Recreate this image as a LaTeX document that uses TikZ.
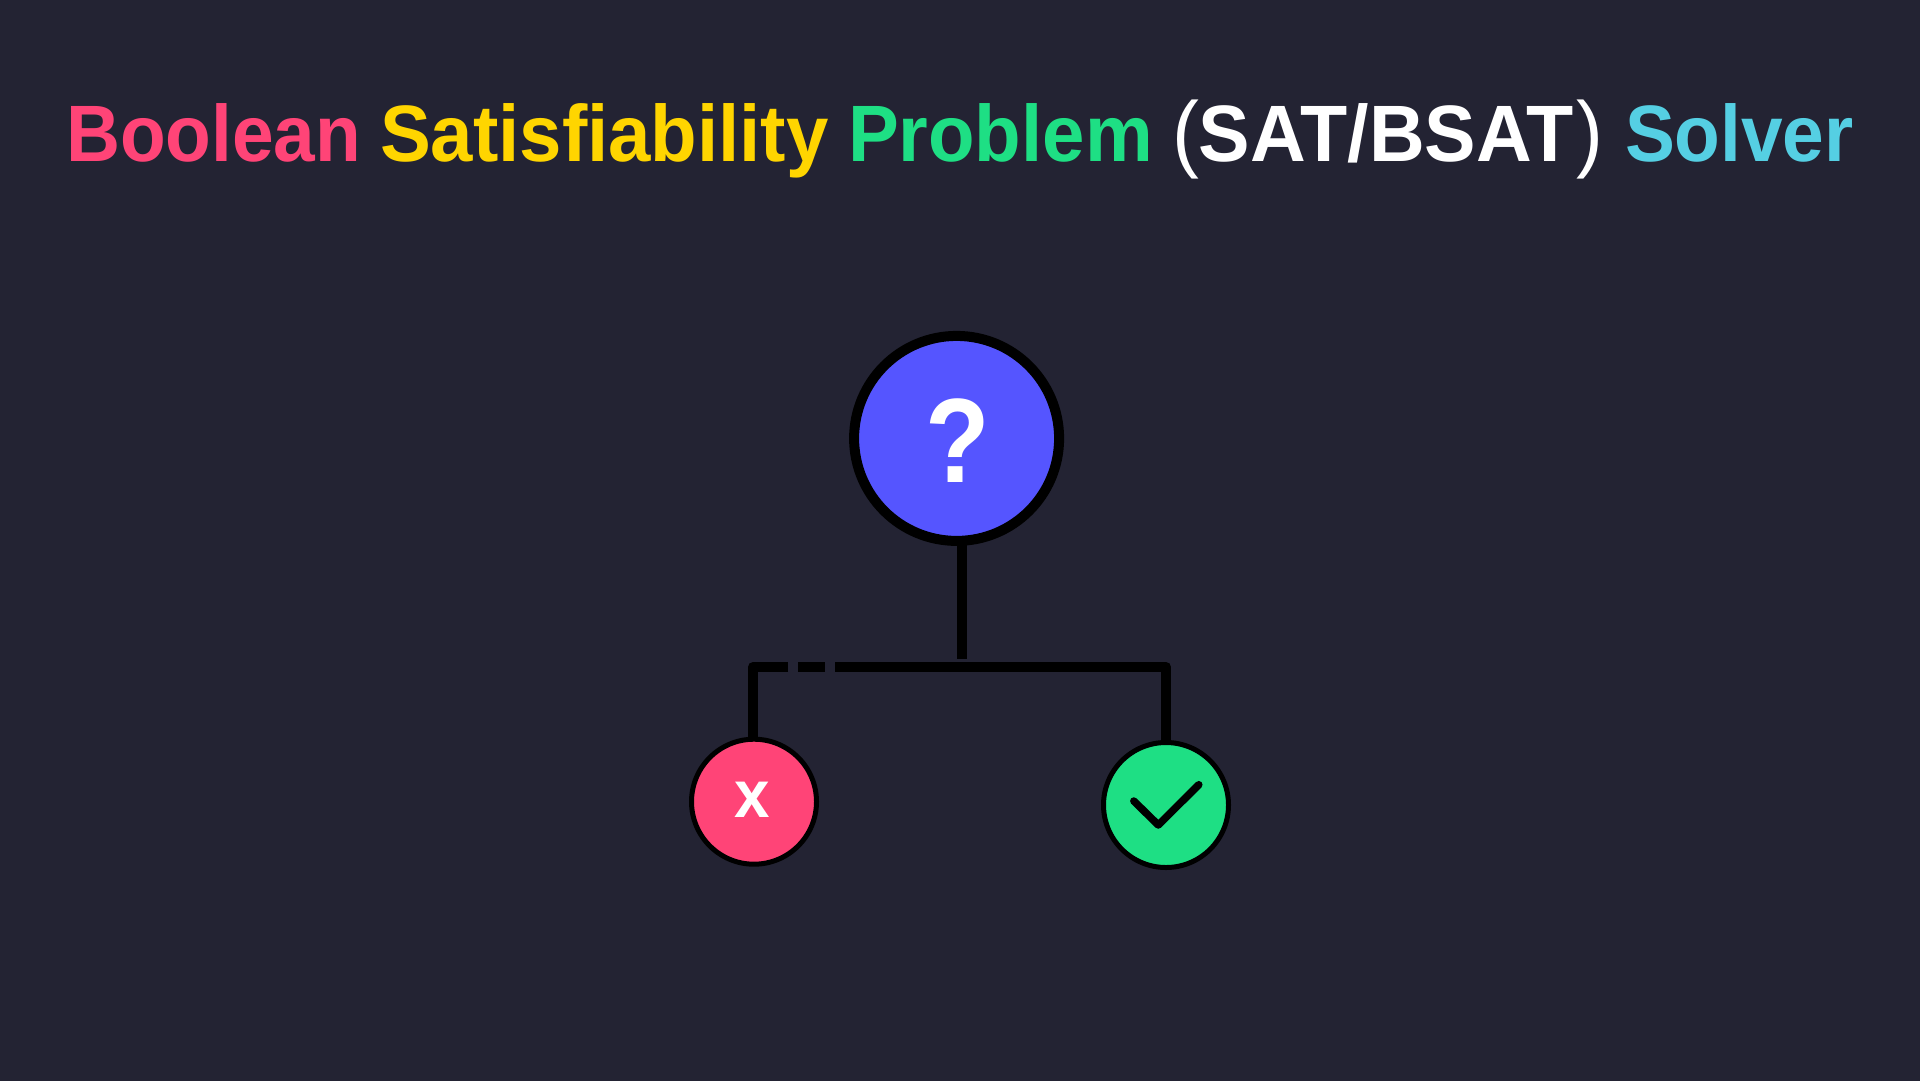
\documentclass[tikz,border=0pt]{standalone}
\usepackage{fontspec}
\setmainfont{Liberation Sans}
\newfontfamily\titlefont[FakeStretch=0.935]{Liberation Sans Bold}
\newfontfamily\widefont[FakeStretch=0.952]{Liberation Sans Bold}
\newfontfamily\satfont[FakeStretch=0.965]{Liberation Sans Bold}
\newfontfamily\markfont[FakeStretch=0.88]{Liberation Sans Bold}
\newfontfamily\parenfont[FakeStretch=0.95]{Liberation Sans}
\definecolor{pagebg}{HTML}{232333}
\definecolor{satpink}{HTML}{FF4477}
\definecolor{satyellow}{HTML}{FFD500}
\definecolor{satgreen}{HTML}{1EDF84}
\definecolor{satcyan}{HTML}{55CFE3}
\definecolor{satblue}{HTML}{5555FF}
\tikzset{
	word/.style={anchor=base west,inner sep=0pt,outer sep=0pt,font=\fontsize{80}{80}\selectfont},
	bigcirc/.style={draw=black,circle,line width=10pt,minimum size=205pt,inner sep=0pt},
	smallcirc/.style={draw=black,circle,line width=5pt,minimum size=125pt,inner sep=0pt},
	wire/.style={draw=black,line width=10pt,line join=round},
	glyph/.style={text=white,inner sep=0pt,font=\fontsize{#1}{#1}\selectfont}
}
\begin{document}
\begin{tikzpicture}[x=1pt,y=-1pt]
		\useasboundingbox (0,0) rectangle (1920,1080);
		\fill[pagebg] (-5,-5) rectangle (1925,1085);
		
		\node[word,text=satpink] (boolean) at (66,161.7) {\titlefont Boolean};
		\node[word,text=satyellow] (satis) at (380,161.7) {\widefont Satisfiability};
		\node[word,text=satgreen] (problem) at (848,161.7) {\widefont Problem};
		\node[word,text=white] (sat) at (1172,161.7) {{\parenfont\fontsize{85}{85}\selectfont(}\satfont SAT/BSAT\kern3pt{\parenfont\fontsize{85}{85}\selectfont)}};
		\node[word,text=satcyan] (solver) at (1625,161.7) {\titlefont Solver};
		
		\coordinate (trunk) at (962,659);
		\coordinate (busl) at (753,667);
		\coordinate (busr) at (1166,667);
		\coordinate (gapa) at (788,667);
		\coordinate (gapb) at (798,667);
		\coordinate (gapc) at (825,667);
		\coordinate (gapd) at (835,667);
		\coordinate (falsetop) at (753,745);
		\coordinate (truetop) at (1166,745);
		
		\draw[wire] (gapa) -- (busl) -- (falsetop);
		\draw[wire] (gapb) -- (gapc);
		\draw[wire] (gapd) -- (busr) -- (truetop);
		\draw[wire] (962,540) -- (trunk);
		
		\node[bigcirc,fill=satblue] (question) at (956.6,438.4) {};
		\node[smallcirc,fill=satpink] (falsenode) at (754,801.7) {};
		\node[smallcirc,fill=satgreen] (truenode) at (1166,805) {};
		
		\node[glyph=120] (qmark) at (958,441) {\markfont ?};
		\node[glyph=67] (xmark) at (752,800) {\widefont x};
		\draw[black,line width=7.5pt,line cap=round,line join=round] (1133.8,801) -- (1158.3,825) -- (1198.8,784.7);
\end{tikzpicture}
\end{document}
